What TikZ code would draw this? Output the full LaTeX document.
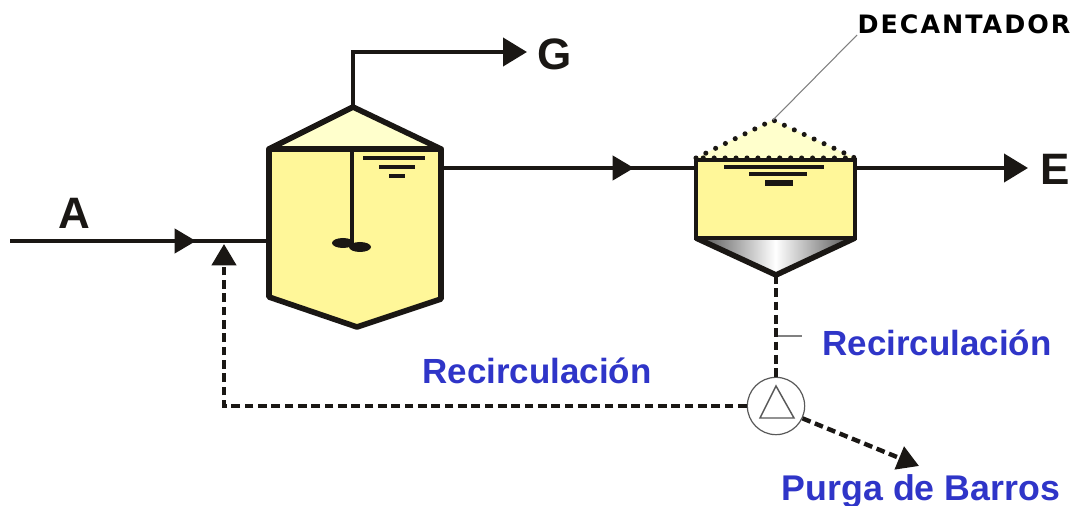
\documentclass[tikz,border=0pt]{standalone}
\usepackage{fontspec}
\setmainfont{Liberation Sans}
\newfontfamily\widefont[LetterSpace=8]{DejaVu Sans}
\usetikzlibrary{arrows.meta}
\definecolor{tankfill}{HTML}{FFF799}
\definecolor{roofill}{HTML}{FFFFCC}
\definecolor{labelblue}{HTML}{2F35C8}
\definecolor{linedark}{HTML}{1A1714}
\tikzset{
    flow/.style={draw=linedark, line width=3.1pt},
    recycle/.style={draw=linedark, line width=3.3pt, dash pattern=on 6.5pt off 3.5pt},
    tip/.style={-{Triangle[length=18pt, width=21pt]}},
    midtip/.style={-{Triangle[length=16pt, width=18pt]}},
    vessel/.style={draw=linedark, line width=4.2pt, line join=round},
    level/.style={draw=linedark, line width=2.9pt},
    leader/.style={draw=gray, line width=0.8pt},
    bluelabel/.style={text=labelblue, font=\bfseries\fontsize{26.2}{30}\selectfont, inner sep=0pt},
    letter/.style={text=linedark, font=\bfseries\fontsize{33}{34}\selectfont, inner sep=0pt}
}
\begin{document}
\begin{tikzpicture}[x=0.75pt, y=-0.75pt]
    \useasboundingbox (0,0) rectangle (1076,506);
    \coordinate (inA) at (10,241); \coordinate (tipA) at (196,241); \coordinate (mix) at (268,241);
    \coordinate (apexR) at (353,107); \coordinate (cornerG) at (353,52); \coordinate (outG) at (527,52);
    \coordinate (outR) at (442,168); \coordinate (tipM) at (634,168); \coordinate (inD) at (696,168);
    \coordinate (outD) at (855,168); \coordinate (outE) at (1028,168);
    \coordinate (apexD) at (773,120); \coordinate (coneD) at (776,275);
    \coordinate (cornerL) at (224,406); \coordinate (backM) at (224,244);
    \coordinate (leadA) at (857,35); \coordinate (leadB) at (778,336); \coordinate (leadC) at (802,336);
    \coordinate (endP) at (919,466);
    \node[circle, draw=gray!70!black, fill=white, line width=0.9pt, minimum size=43pt, inner sep=0pt] (pump) at (776,406) {};

    \draw[flow] (inA) -- (mix);
    \draw[flow, midtip] (inA) -- (tipA);
    \draw[flow, tip] (apexR) -- (cornerG) -- (outG);
    \draw[flow] (outR) -- (inD);
    \draw[flow, midtip] (outR) -- (tipM);
    \draw[flow, tip] (outD) -- (outE);

    \draw[vessel, fill=tankfill] (269,149) -- (441,149) -- (441,299) -- (357,327) -- (269,297) -- cycle;
    \draw[vessel, fill=roofill] (269,149) -- (apexR) -- (441,149) -- cycle;
    \draw[linedark, line width=2.8pt] (352,149) -- (352,245);
    \fill[linedark] (343,243) ellipse (11 and 5) (360,247) ellipse (11 and 5);
    \draw[level] (363,158) -- (425,158) (379,167) -- (415,167) (389,176) -- (405,176);

    \draw[left color=black!70, right color=black!70, middle color=white, draw=none] (696,238) -- (855,238) -- (coneD) -- cycle;
    \draw[vessel] (696,238) -- (coneD) -- (855,238);
    \draw[draw=linedark, line width=3pt, fill=tankfill] (696,160) rectangle (855,238);
    \fill[roofill] (696,158) -- (apexD) -- (855,158) -- cycle;
    \draw[linedark, line width=3.8pt, line cap=round, dash pattern=on 0pt off 8.2pt] (696,158) -- (apexD) -- (855,158) -- (696,158);
    \draw[level] (724,167) -- (824,167) (749,174) -- (807,174);
    \draw[level, line width=3.8pt] (765,183) -- (793,183);

    \draw[recycle] (coneD) -- (pump.north);
    \draw[recycle, midtip] (pump.west) -- (cornerL) -- (backM);
    \draw[recycle, midtip] (pump.-25) -- (endP);
    \draw[draw=gray!70!black, line width=1.1pt] (776,386) -- (760,418) -- (794,418) -- cycle;

    \draw[leader] (apexD) -- (leadA);
    \draw[leader] (leadB) -- (leadC);

    \node[letter] (labelA) at (74,213) {A};
    \node[letter] (labelG) at (555,54) {G};
    \node[letter] (labelE) at (1055,169) {E};
    \node[inner sep=0pt, text=black, font=\widefont\bfseries\fontsize{19}{20}\selectfont] (labelD) at (964,24) {DECANTADOR};
    \node[bluelabel] (labelR) at (537,371) {Recirculación};
    \node[bluelabel] (labelS) at (937,343) {Recirculación};
    \node[bluelabel, font=\bfseries\fontsize{26.8}{30}\selectfont] (labelP) at (921,491) {Purga de Barros};
\end{tikzpicture}
\end{document}
